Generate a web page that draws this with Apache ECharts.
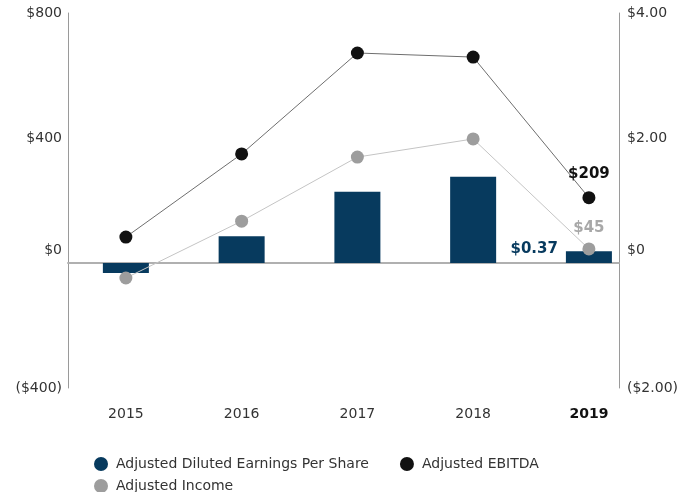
<!DOCTYPE html>
<html>
<head>
<meta charset="utf-8">
<script src="https://cdn.jsdelivr.net/npm/echarts@6/dist/echarts.min.js"></script>
<style>
  html, body { margin: 0; padding: 0; background: #fff; }
  #chart { width: 682px; height: 492px; }
</style>
</head>
<body>
<div id="chart"></div>
<script>
// data
const years = ['2015', '2016', '2017', '2018', '2019']
const epsValues = [-0.16, 0.43, 1.14, 1.38, 0.19]      // right axis, $
const ebitdaValues = [83, 349, 672, 659, 209]          // left axis, $M
const incomeValues = [-48, 134, 339, 397, 45]          // left axis, $M
const epsLastLabel = '$0.37'

const leftTicks = { '-400': '($400)', '0': '$0', '400': '$400', '800': '$800' }
const rightTicks = { '-2': '($2.00)', '0': '$0', '2': '$2.00', '4': '$4.00' }

const navy = '#073a5e'
const black = '#111111'
const grey = '#9d9d9d'
const last = years.length - 1
const font = 'DejaVu Sans, Verdana, sans-serif'

const chart = echarts.init(document.getElementById('chart'))

const zeroLift = { padding: [0, 0, 26, 0] }

const legendBase = {
  left: 89,
  icon: 'circle',
  itemWidth: 14,
  itemHeight: 14,
  itemGap: 31,
  textStyle: { fontSize: 14, color: '#333', fontFamily: font, padding: [0, 0, 0, 3] }
}

const option = {
  animation: false,
  textStyle: { fontFamily: font },
  grid: { left: 68, right: 63, top: 13, bottom: 104 },
  legend: [
    Object.assign({ top: 452, data: ['Adjusted Diluted Earnings Per Share', 'Adjusted EBITDA'] }, legendBase),
    Object.assign({ top: 474, data: ['Adjusted Income'] }, legendBase)
  ],
  xAxis: {
    type: 'value',
    min: -0.5,
    max: 4.26,
    splitLine: { show: false },
    axisTick: { show: false },
    axisLine: { show: true, onZero: true, lineStyle: { color: '#b0b0b0', width: 2 } },
    axisLabel: {
      customValues: [0, 1, 2, 3, 4],
      margin: 19,
      formatter: v => (v === last ? '{b|' + years[v] + '}' : '{n|' + years[v] + '}'),
      rich: {
        n: { fontSize: 14, color: '#333', fontFamily: font },
        b: { fontSize: 14, color: '#111', fontWeight: 'bold', fontFamily: font }
      }
    }
  },
  yAxis: [
    {
      type: 'value',
      min: -400,
      max: 800,
      interval: 400,
      splitLine: { show: false },
      axisTick: { show: false },
      axisLine: { show: true, onZero: false, lineStyle: { color: '#9a9a9a', width: 1 } },
      axisLabel: {
        margin: 6,
        formatter: v => (v === 0 ? '{z|' + leftTicks['0'] + '}' : '{n|' + leftTicks[String(v)] + '}'),
        rich: {
          n: { fontSize: 14, color: '#333', fontFamily: font },
          z: Object.assign({ fontSize: 14, color: '#333', fontFamily: font }, zeroLift)
        }
      }
    },
    {
      type: 'value',
      position: 'right',
      min: -2,
      max: 4,
      interval: 2,
      splitLine: { show: false },
      axisTick: { show: false },
      axisLine: { show: true, onZero: false, lineStyle: { color: '#9a9a9a', width: 1 } },
      axisLabel: {
        margin: 8,
        formatter: v => (v === 0 ? '{z|' + rightTicks['0'] + '}' : '{n|' + rightTicks[String(v)] + '}'),
        rich: {
          n: { fontSize: 14, color: '#333', fontFamily: font },
          z: Object.assign({ fontSize: 14, color: '#333', fontFamily: font }, zeroLift)
        }
      }
    }
  ],
  series: [
    {
      name: 'Adjusted Diluted Earnings Per Share',
      type: 'bar',
      yAxisIndex: 1,
      barWidth: 46,
      itemStyle: { color: navy },
      z: 2,
      data: epsValues.map((v, i) => ({
        value: [i, v],
        label: i === last ? {
          show: true,
          position: 'left',
          distance: 8,
          offset: [0, -8],
          formatter: epsLastLabel,
          fontSize: 15,
          fontWeight: 'bold',
          fontFamily: font,
          color: navy
        } : { show: false }
      }))
    },
    {
      name: 'Adjusted EBITDA',
      type: 'line',
      yAxisIndex: 0,
      symbol: 'circle',
      symbolSize: 13,
      itemStyle: { color: black },
      lineStyle: { color: '#6e6e6e', width: 1 },
      z: 4,
      data: ebitdaValues.map((v, i) => ({
        value: [i, v],
        label: i === last ? {
          show: true,
          position: 'top',
          distance: 10,
          formatter: '$' + v,
          fontSize: 15,
          fontWeight: 'bold',
          fontFamily: font,
          color: black
        } : { show: false }
      }))
    },
    {
      name: 'Adjusted Income',
      type: 'line',
      yAxisIndex: 0,
      symbol: 'circle',
      symbolSize: 13,
      itemStyle: { color: grey },
      lineStyle: { color: '#c4c4c4', width: 1 },
      z: 3,
      data: incomeValues.map((v, i) => ({
        value: [i, v],
        label: i === last ? {
          show: true,
          position: 'top',
          distance: 7,
          formatter: '$' + v,
          fontSize: 15,
          fontWeight: 'bold',
          fontFamily: font,
          color: '#a8a8a8'
        } : { show: false }
      }))
    }
  ]
}

chart.setOption(option)
</script>
</body>
</html>
